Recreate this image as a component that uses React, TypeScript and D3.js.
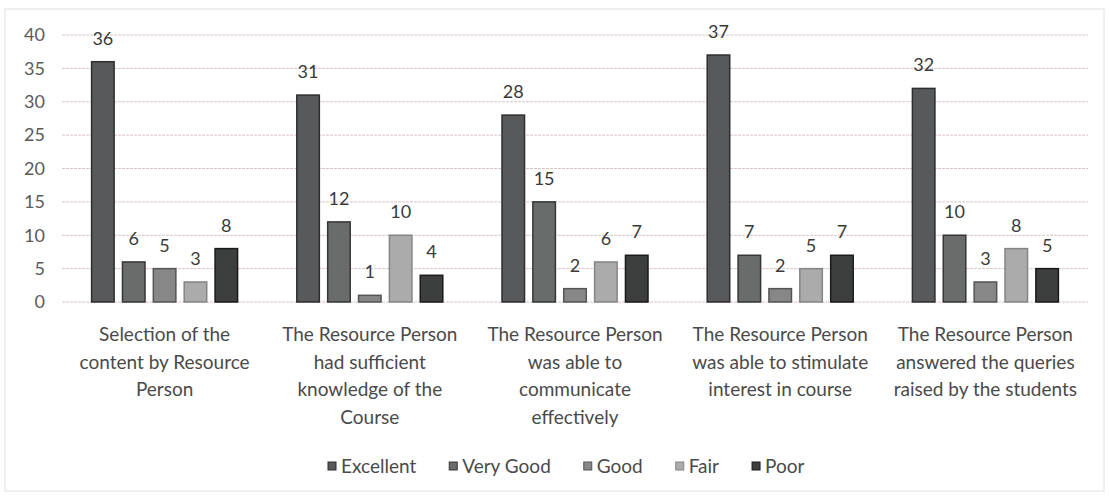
import { useEffect, useRef } from "react";
import * as d3 from "d3";

const categories = [
  ["Selection of the", "content by Resource", "Person"],
  ["The Resource Person", "had sufficient", "knowledge of the", "Course"],
  ["The Resource Person", "was able to", "communicate", "effectively"],
  ["The Resource Person", "was able to stimulate", "interest in course"],
  ["The Resource Person", "answered the queries", "raised by the students"],
];
const seriesNames = ["Excellent", "Very Good", "Good", "Fair", "Poor"];
const excellent = [36, 31, 28, 37, 32];
const veryGood = [6, 12, 15, 7, 10];
const good = [5, 1, 2, 2, 3];
const fair = [3, 10, 6, 5, 8];
const poor = [8, 4, 7, 7, 5];
const yTicks = [0, 5, 10, 15, 20, 25, 30, 35, 40];

const fills = ["#58595a", "#6a6b6b", "#878787", "#ababab", "#3d3f3f"];
const strokes = ["#2e2e2e", "#363636", "#555", "#858585", "#1a1a1a"];

const W = 1109;
const H = 496;
const margin = { top: 35, right: 21, bottom: 194, left: 62 };

const App = () => {
  const ref = useRef<SVGSVGElement>(null);

  useEffect(() => {
    const svg = d3.select(ref.current);
    svg.selectAll("*").remove();
    const font = "Lato, 'Open Sans', sans-serif";
    const values = [excellent, veryGood, good, fair, poor];

    svg.append("rect").attr("x", 5).attr("y", 9).attr("width", W - 10).attr("height", H - 14)
      .attr("fill", "#fff").attr("stroke", "#e4dede").attr("stroke-width", 1);

    const x0 = d3.scaleBand<number>()
      .domain(d3.range(categories.length))
      .range([margin.left, W - margin.right]);
    const bw = x0.bandwidth();
    const x1 = d3.scaleBand<number>()
      .domain(d3.range(seriesNames.length))
      .range([bw / 2 - 73, bw / 2 + 73])
      .paddingInner(0.27);
    const y = d3.scaleLinear().domain([0, 40]).range([H - margin.bottom, margin.top]);

    const grid = svg.append("g");
    yTicks.forEach((t) => {
      grid.append("line")
        .attr("x1", margin.left).attr("x2", W - margin.right)
        .attr("y1", y(t)).attr("y2", y(t))
        .attr("stroke", "#d8c4c6").attr("stroke-width", 1)
        .attr("stroke-dasharray", "3,1");
      grid.append("text")
        .attr("x", 45).attr("y", y(t)).attr("dy", "0.35em")
        .attr("text-anchor", "end")
        .attr("font-family", font).attr("font-size", 18)
        .attr("fill", "#5a5a5a").text(t);
    });

    categories.forEach((lines, ci) => {
      const g = svg.append("g").attr("transform", `translate(${x0(ci)},0)`);
      values.forEach((arr, si) => {
        const v = arr[ci];
        g.append("rect")
          .attr("x", x1(si)!).attr("y", y(v))
          .attr("width", x1.bandwidth()).attr("height", y(0) - y(v))
          .attr("fill", fills[si]).attr("stroke", strokes[si]).attr("stroke-width", 1.5);
        g.append("text")
          .attr("x", x1(si)! + x1.bandwidth() / 2).attr("y", y(v) - 17)
          .attr("text-anchor", "middle")
          .attr("font-family", font).attr("font-size", 18)
          .attr("fill", "#3a3a3a").text(v);
      });
      lines.forEach((l, li) => {
        g.append("text")
          .attr("x", bw / 2).attr("y", 341 + li * 27.5)
          .attr("text-anchor", "middle")
          .attr("font-family", font).attr("font-size", 19)
          .attr("fill", "#4a4a4a").text(l);
      });
    });

    const legend = svg.append("g").attr("transform", "translate(0,466)");
    let lx = 328;
    seriesNames.forEach((name, i) => {
      legend.append("rect").attr("x", lx).attr("y", -4).attr("width", 8).attr("height", 8)
        .attr("fill", fills[i]).attr("stroke", strokes[i]);
      const t = legend.append("text").attr("x", lx + 13).attr("y", 0).attr("dy", "0.35em")
        .attr("font-family", font).attr("font-size", 19)
        .attr("fill", "#4a4a4a").text(name);
      const w = (t.node() as SVGTextElement).getComputedTextLength();
      lx += 13 + w + 33;
    });
  }, []);

  return <svg ref={ref} width={W} height={H} style={{ position: "absolute", left: 0, top: 0 }} />;
};

export default App;
